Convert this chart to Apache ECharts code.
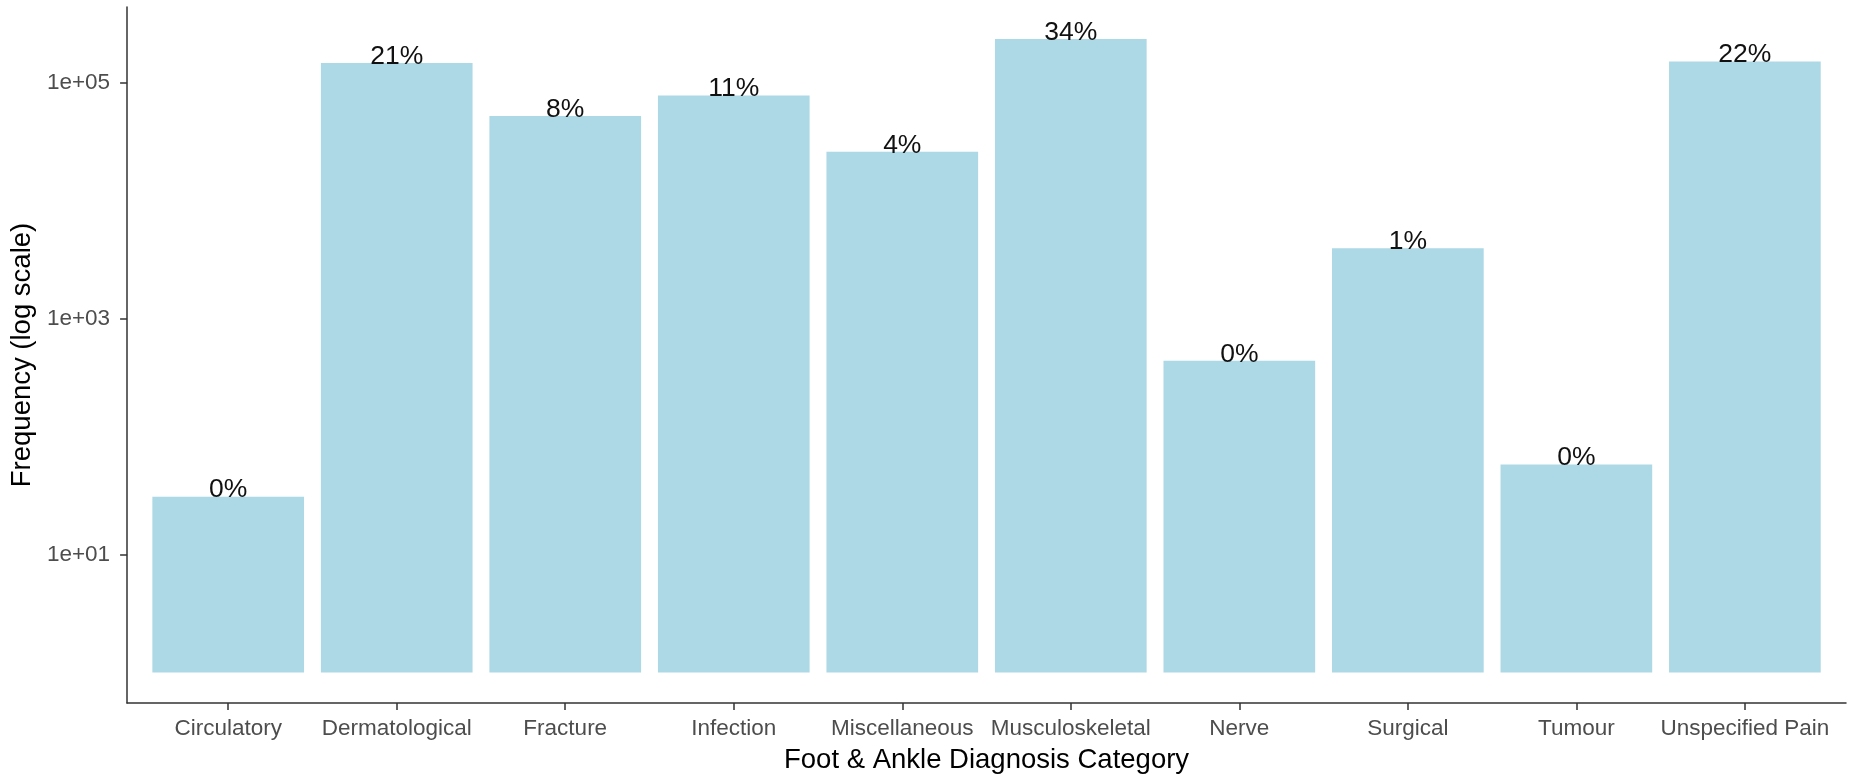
<!DOCTYPE html>
<html>
<head>
<meta charset="utf-8">
<script src="https://cdn.jsdelivr.net/npm/echarts@6/dist/echarts.min.js"></script>
<style>
  html, body { margin: 0; padding: 0; background: #ffffff; }
  #chart { width: 1850px; height: 781px; }
</style>
</head>
<body>
<div id="chart"></div>
<script>
const categories = ['Circulatory', 'Dermatological', 'Fracture', 'Infection', 'Miscellaneous',
  'Musculoskeletal', 'Nerve', 'Surgical', 'Tumour', 'Unspecified Pain'];
const frequencies = [31, 147900, 52500, 78500, 26100, 236300, 440, 3975, 58, 152500];
const percentLabels = ['0%', '21%', '8%', '11%', '4%', '34%', '0%', '1%', '0%', '22%'];
const yTickValues = [10, 1000, 100000];
const yTickLabels = ['1e+01', '1e+03', '1e+05'];

const FONT = 'Liberation Sans, Arial, Helvetica, sans-serif';
const logTicks = yTickValues.map(v => Math.log10(v));
const xPositions = categories.map((c, i) => i + 1);

const chart = echarts.init(document.getElementById('chart'), null, { renderer: 'canvas' });
chart.setOption({
  animation: false,
  backgroundColor: '#ffffff',
  grid: { left: 127, right: 4, top: 7, bottom: 78, containLabel: false },
  xAxis: {
    type: 'value',
    min: 0.4,
    max: 10.6,
    name: 'Foot & Ankle Diagnosis Category',
    nameLocation: 'middle',
    nameGap: 43,
    nameTextStyle: { fontFamily: FONT, fontSize: 27.5, color: '#000000' },
    axisLine: { show: true, onZero: false, lineStyle: { color: '#333333', width: 1.5 } },
    axisTick: { show: true, length: 7, lineStyle: { color: '#333333', width: 1.5 }, customValues: xPositions },
    axisLabel: {
      customValues: xPositions,
      margin: 14,
      fontFamily: FONT, fontSize: 22.5, color: '#4D4D4D',
      formatter: v => categories[Math.round(v) - 1] || ''
    },
    splitLine: { show: false }
  },
  yAxis: {
    type: 'value',
    min: -0.259,
    max: 5.645,
    name: 'Frequency (log scale)',
    nameLocation: 'middle',
    nameGap: 76,
    nameRotate: 90,
    nameTextStyle: { fontFamily: FONT, fontSize: 27.5, color: '#000000' },
    axisLine: { show: true, onZero: false, lineStyle: { color: '#333333', width: 1.5 } },
    axisTick: { show: true, length: 7, lineStyle: { color: '#333333', width: 1.5 }, customValues: logTicks },
    axisLabel: {
      customValues: logTicks,
      margin: 17,
      fontFamily: FONT, fontSize: 22.5, color: '#4D4D4D',
      formatter: v => {
        const idx = logTicks.findIndex(t => Math.abs(t - v) < 1e-6);
        return idx >= 0 ? yTickLabels[idx] : '';
      }
    },
    splitLine: { show: false }
  },
  series: [{
    type: 'bar',
    barWidth: '90%',
    itemStyle: { color: '#ADD8E6' },
    data: categories.map((c, i) => [xPositions[i], Math.log10(frequencies[i])]),
    label: {
      show: true,
      position: 'top',
      distance: -7,
      fontFamily: FONT, fontSize: 26.5, color: '#111111',
      formatter: p => percentLabels[p.dataIndex]
    }
  }]
});
</script>
</body>
</html>
